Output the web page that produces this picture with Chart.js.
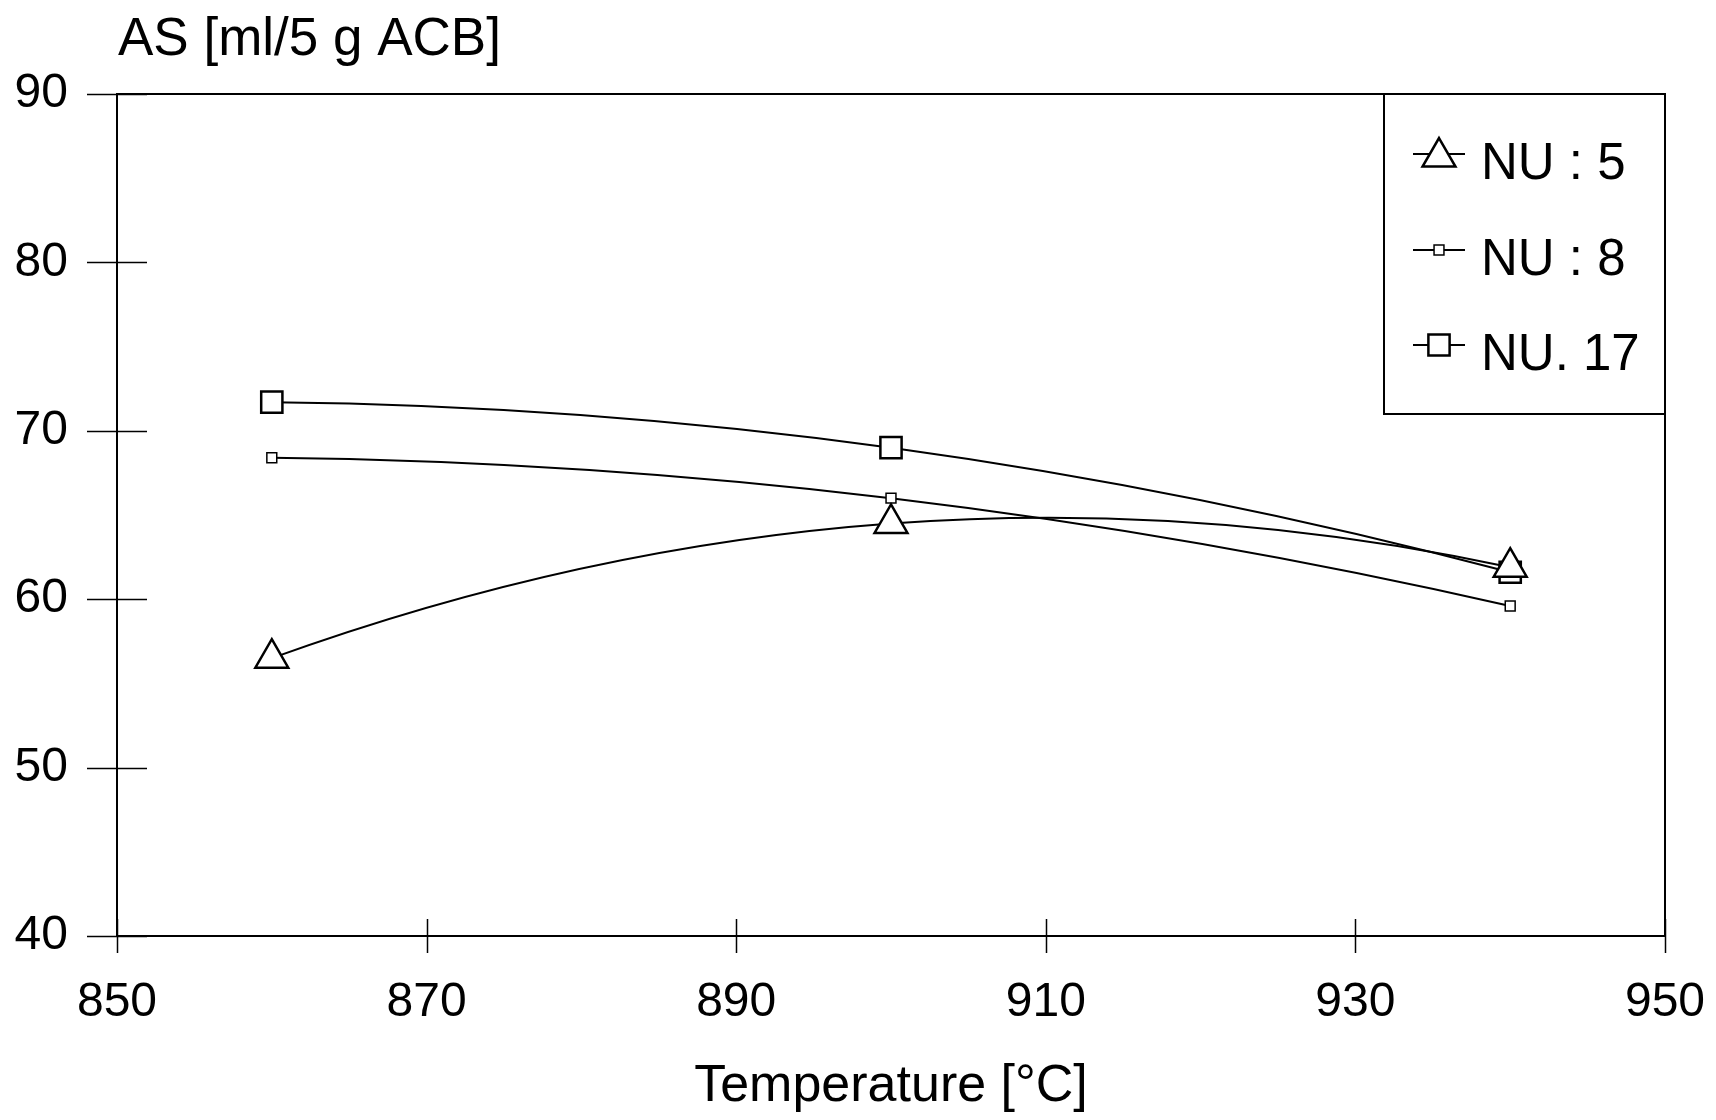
<!DOCTYPE html>
<html>
<head>
<meta charset="utf-8">
<title>AS vs Temperature</title>
<script src="https://cdn.jsdelivr.net/npm/chart.js@4.4.1/dist/chart.umd.min.js"></script>
<style>
  html, body { margin: 0; padding: 0; background: #ffffff; }
  #wrap { width: 1716px; height: 1120px; }
</style>
</head>
<body>
<div id="wrap"><canvas id="chart" width="1716" height="1120"></canvas></div>
<script>
// Measured absorption (AS) per calcination temperature, one array per sample
const temperatures = [860, 900, 940];
const nu5 = [56.5, 64.5, 61.9];
const nu8 = [68.4, 66.0, 59.6];
const nu17 = [71.7, 69.0, 61.6];
const seriesNames = ['NU : 5', 'NU : 8', 'NU. 17'];
const xTickValues = [850, 870, 890, 910, 930, 950];
const yTickValues = [40, 50, 60, 70, 80, 90];
const yAxisTitle = 'AS [ml/5 g ACB]';
const xAxisTitle = 'Temperature [°C]';

const FONT = '"Liberation Sans", Arial, Helvetica, sans-serif';

function points(values) {
  return temperatures.map((t, i) => ({ x: t, y: values[i] }));
}

// Smooth curves: tangents from neighbouring points (parabolic at the ends),
// written into the point elements' bezier control points before drawing.
const smoothCurves = {
  id: 'smoothCurves',
  beforeDatasetsDraw(chart) {
    chart.data.datasets.forEach((ds, di) => {
      const meta = chart.getDatasetMeta(di);
      const pts = meta.data;
      const n = pts.length;
      if (n < 3) return;
      const slope = (a, b) => (b.y - a.y) / (b.x - a.x);
      const m = new Array(n);
      for (let i = 1; i < n - 1; i++) m[i] = slope(pts[i - 1], pts[i + 1]);
      m[0] = 2 * slope(pts[0], pts[1]) - m[1];
      m[n - 1] = 2 * slope(pts[n - 2], pts[n - 1]) - m[n - 2];
      for (let i = 0; i < n; i++) {
        const p = pts[i];
        const hPrev = i > 0 ? (p.x - pts[i - 1].x) / 3 : 0;
        const hNext = i < n - 1 ? (pts[i + 1].x - p.x) / 3 : 0;
        p.cp1x = p.x - hPrev;
        p.cp1y = p.y - hPrev * m[i];
        p.cp2x = p.x + hNext;
        p.cp2y = p.y + hNext * m[i];
      }
      meta.dataset._pointsUpdated = true;
    });
  }
};

// Frame, crossing tick marks, y title and boxed legend
const decorations = {
  id: 'decorations',
  afterDraw(chart) {
    const ctx = chart.ctx;
    const area = chart.chartArea;
    const xs = chart.scales.x;
    const ys = chart.scales.y;
    ctx.save();
    ctx.strokeStyle = '#000';
    ctx.lineCap = 'butt';

    // plot frame
    ctx.lineWidth = 2;
    ctx.strokeRect(area.left, area.top, area.right - area.left, area.bottom - area.top);

    // tick marks crossing the axes
    ctx.lineWidth = 1.5;
    ctx.beginPath();
    xTickValues.forEach(v => {
      const px = Math.round(xs.getPixelForValue(v)) + 0.5;
      ctx.moveTo(px, area.bottom - 17);
      ctx.lineTo(px, area.bottom + 17);
    });
    yTickValues.forEach(v => {
      const py = Math.round(ys.getPixelForValue(v)) + 0.5;
      ctx.moveTo(area.left - 30, py);
      ctx.lineTo(area.left + 30, py);
    });
    ctx.stroke();

    // y axis title above the plot
    ctx.fillStyle = '#000';
    ctx.font = '53px ' + FONT;
    ctx.textAlign = 'left';
    ctx.textBaseline = 'alphabetic';
    ctx.fillText(yAxisTitle, area.left + 1, 55);

    // legend box in the upper right corner
    const boxLeft = 1384;
    const boxBottom = 414;
    ctx.lineWidth = 2;
    ctx.strokeRect(boxLeft, area.top, area.right - boxLeft, boxBottom - area.top);

    const rowY = [154, 250, 345];
    chart.data.datasets.forEach((ds, i) => {
      const y = rowY[i];
      ctx.lineWidth = 2;
      ctx.strokeStyle = '#000';
      ctx.beginPath();
      ctx.moveTo(1413, y);
      ctx.lineTo(1465, y);
      ctx.stroke();
      ctx.fillStyle = ds.pointBackgroundColor;
      ctx.strokeStyle = ds.pointBorderColor;
      ctx.lineWidth = ds.pointBorderWidth;
      const markerY = ds.pointStyle === 'triangle' ? y + 3 : y;
      Chart.helpers.drawPoint(ctx, {
        pointStyle: ds.pointStyle,
        rotation: 0,
        radius: ds.pointRadius,
        borderWidth: ds.pointBorderWidth
      }, 1439, markerY);
      ctx.fillStyle = '#000';
      ctx.font = '51px ' + FONT;
      ctx.textAlign = 'left';
      ctx.textBaseline = 'middle';
      ctx.fillText(ds.label, 1481, y + 11);
    });
    ctx.restore();
  }
};

const baseSeries = {
  borderColor: '#000',
  borderWidth: 2,
  pointBackgroundColor: '#ffffff',
  pointBorderColor: '#000',
  tension: 0.4,
  fill: false
};

new Chart(document.getElementById('chart'), {
  type: 'line',
  data: {
    datasets: [
      Object.assign({}, baseSeries, {
        label: seriesNames[0], data: points(nu5),
        pointStyle: 'triangle', pointRadius: 19, pointBorderWidth: 2.5
      }),
      Object.assign({}, baseSeries, {
        label: seriesNames[1], data: points(nu8),
        pointStyle: 'rect', pointRadius: 7, pointBorderWidth: 1.5
      }),
      Object.assign({}, baseSeries, {
        label: seriesNames[2], data: points(nu17),
        pointStyle: 'rect', pointRadius: 15, pointBorderWidth: 2.5
      })
    ]
  },
  options: {
    responsive: false,
    animation: false,
    devicePixelRatio: 1,
    layout: { padding: { left: 0, top: 94, right: 51, bottom: 0 } },
    plugins: {
      legend: { display: false },
      tooltip: { enabled: false }
    },
    scales: {
      x: {
        type: 'linear',
        min: 850,
        max: 950,
        afterBuildTicks(scale) { scale.ticks = xTickValues.map(v => ({ value: v })); },
        afterFit(scale) {
          scale.height = 184;
          scale.paddingLeft = 0;
          scale.paddingRight = 0;
        },
        grid: { display: false, drawTicks: false },
        border: { display: false },
        ticks: {
          color: '#000',
          padding: 38,
          font: { family: FONT, size: 48 },
          maxRotation: 0,
          callback: v => String(v)
        },
        title: {
          display: true,
          text: xAxisTitle,
          color: '#000',
          font: { family: FONT, size: 52 },
          padding: { top: 0, bottom: 2 }
        }
      },
      y: {
        type: 'linear',
        min: 40,
        max: 90,
        afterBuildTicks(scale) { scale.ticks = yTickValues.map(v => ({ value: v })); },
        afterFit(scale) { scale.width = 117; },
        grid: { display: false, drawTicks: false },
        border: { display: false },
        ticks: {
          color: '#000',
          padding: 49,
          font: { family: FONT, size: 48 },
          callback: v => String(v)
        }
      }
    }
  },
  plugins: [smoothCurves, decorations]
});
</script>
</body>
</html>
